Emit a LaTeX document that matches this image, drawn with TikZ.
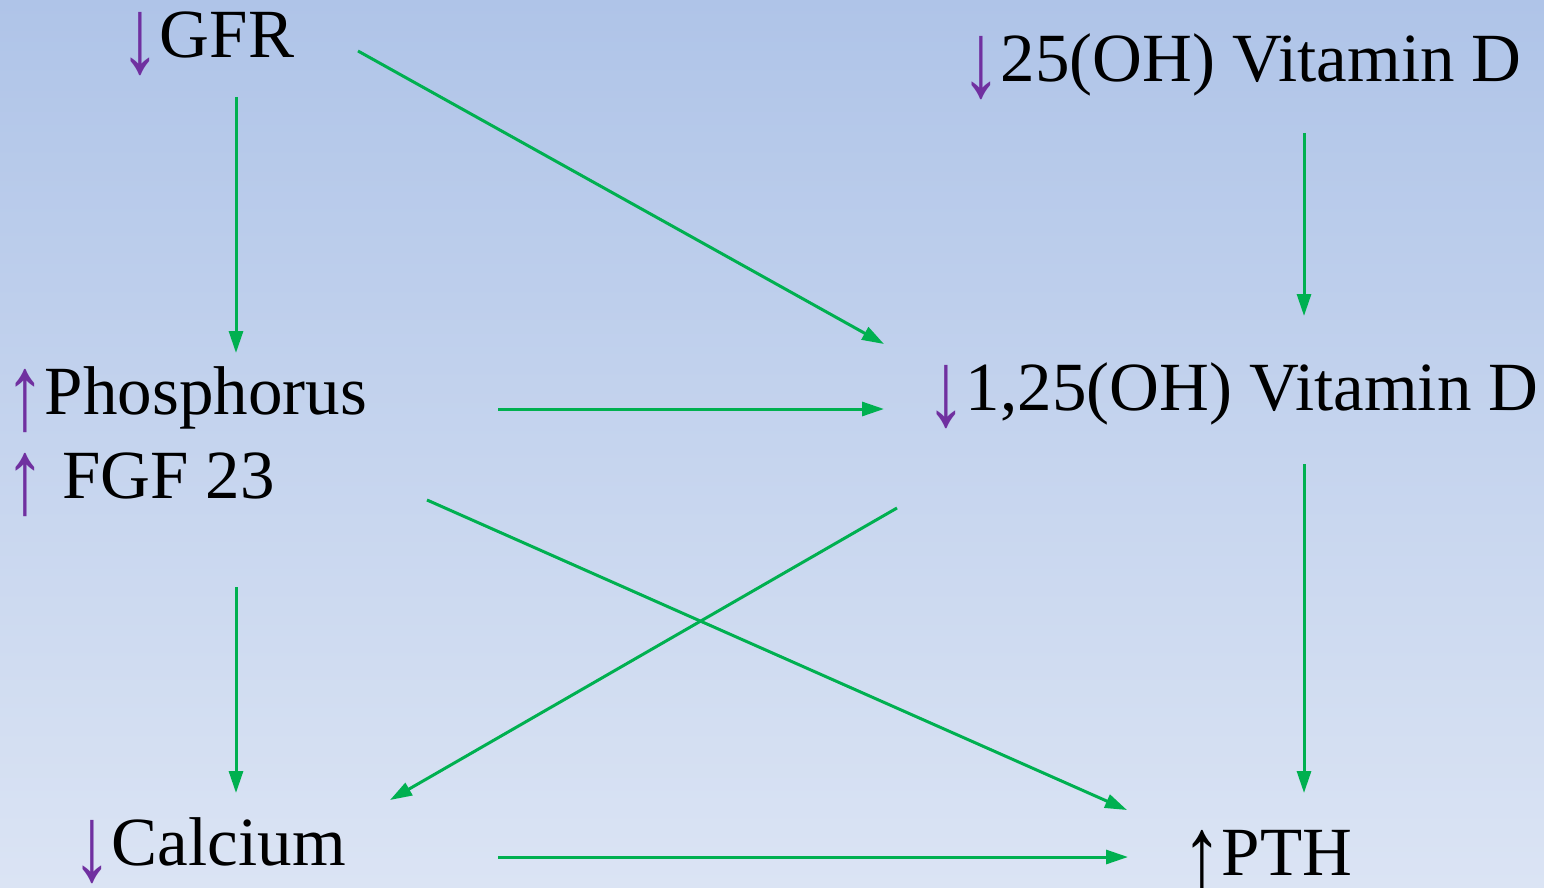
\documentclass[tikz,border=0pt]{standalone}
\usepackage{fontspec}
\setmainfont{Liberation Serif}
\usetikzlibrary{arrows.meta}
\definecolor{bgtop}{RGB}{175,196,232}
\definecolor{bgbottom}{RGB}{219,228,244}
\definecolor{flow}{RGB}{0,176,80}
\definecolor{trend}{RGB}{112,48,160}
\tikzset{
  label/.style={anchor=base west, inner sep=0pt, font=\fontsize{69}{80}\selectfont, text=black},
  flowarrow/.style={draw=flow, line width=3pt, -{Triangle[length=22pt,width=14pt]}}
}
% tall trend arrows reaching below the baseline
\newcommand{\tallarrow}[1]{\raisebox{-15pt}{\scalebox{1.15}[1.55]{#1}}}
\newcommand{\dn}{\textcolor{trend}{\tallarrow{↓}}}
\newcommand{\up}{\textcolor{trend}{\tallarrow{↑}}}
\begin{document}
\begin{tikzpicture}[x=1pt,y=-1pt]
  % background
  \shade[top color=bgtop, bottom color=bgbottom] (0,0) rectangle (1544,888);
  \useasboundingbox (0,0) rectangle (1544,888);

  % labels
  \node[label] (gfr)   at (120,58)  {\dn GFR};
  \node[label] (vd25)  at (961,82)  {\dn 25(OH) Vitamin D};
  \node[label] (phos)  at (5,414)   {\up Phosphorus};
  \node[label] (fgf)   at (5,498)   {\up\ FGF 23};
  \node[label] (vd125) at (926,410) {\dn 1,25(OH) Vitamin D};
  \node[label] (ca)    at (72,865)  {\dn Calcium};
  \node[label] (pth)   at (1182,875){\tallarrow{↑}PTH};

  % arrow ends
  \coordinate (gfrS)    at (236,97);
  \coordinate (phosN)   at (236,353);
  \coordinate (gfrE)    at (358,51);
  \coordinate (vdNW)    at (884,344);
  \coordinate (phosE)   at (498,409);
  \coordinate (vdW)     at (884,409);
  \coordinate (vd25S)   at (1304,133);
  \coordinate (vdN)     at (1304,316);
  \coordinate (fgfE)    at (427,500);
  \coordinate (pthNW)   at (1127,810);
  \coordinate (vdSW)    at (897,508);
  \coordinate (caNE)    at (390,800);
  \coordinate (fgfS)    at (236,587);
  \coordinate (caN)     at (236,793);
  \coordinate (vdS)     at (1304,464);
  \coordinate (pthN)    at (1304,793);
  \coordinate (caE)     at (498,857);
  \coordinate (pthW)    at (1128,857);

  % connectors
  \draw[flowarrow] (gfrS) -- (phosN);
  \draw[flowarrow] (gfrE) -- (vdNW);
  \draw[flowarrow] (phosE) -- (vdW);
  \draw[flowarrow] (vd25S) -- (vdN);
  \draw[flowarrow] (fgfE) -- (pthNW);
  \draw[flowarrow] (vdSW) -- (caNE);
  \draw[flowarrow] (fgfS) -- (caN);
  \draw[flowarrow] (vdS) -- (pthN);
  \draw[flowarrow] (caE) -- (pthW);
\end{tikzpicture}
\end{document}
